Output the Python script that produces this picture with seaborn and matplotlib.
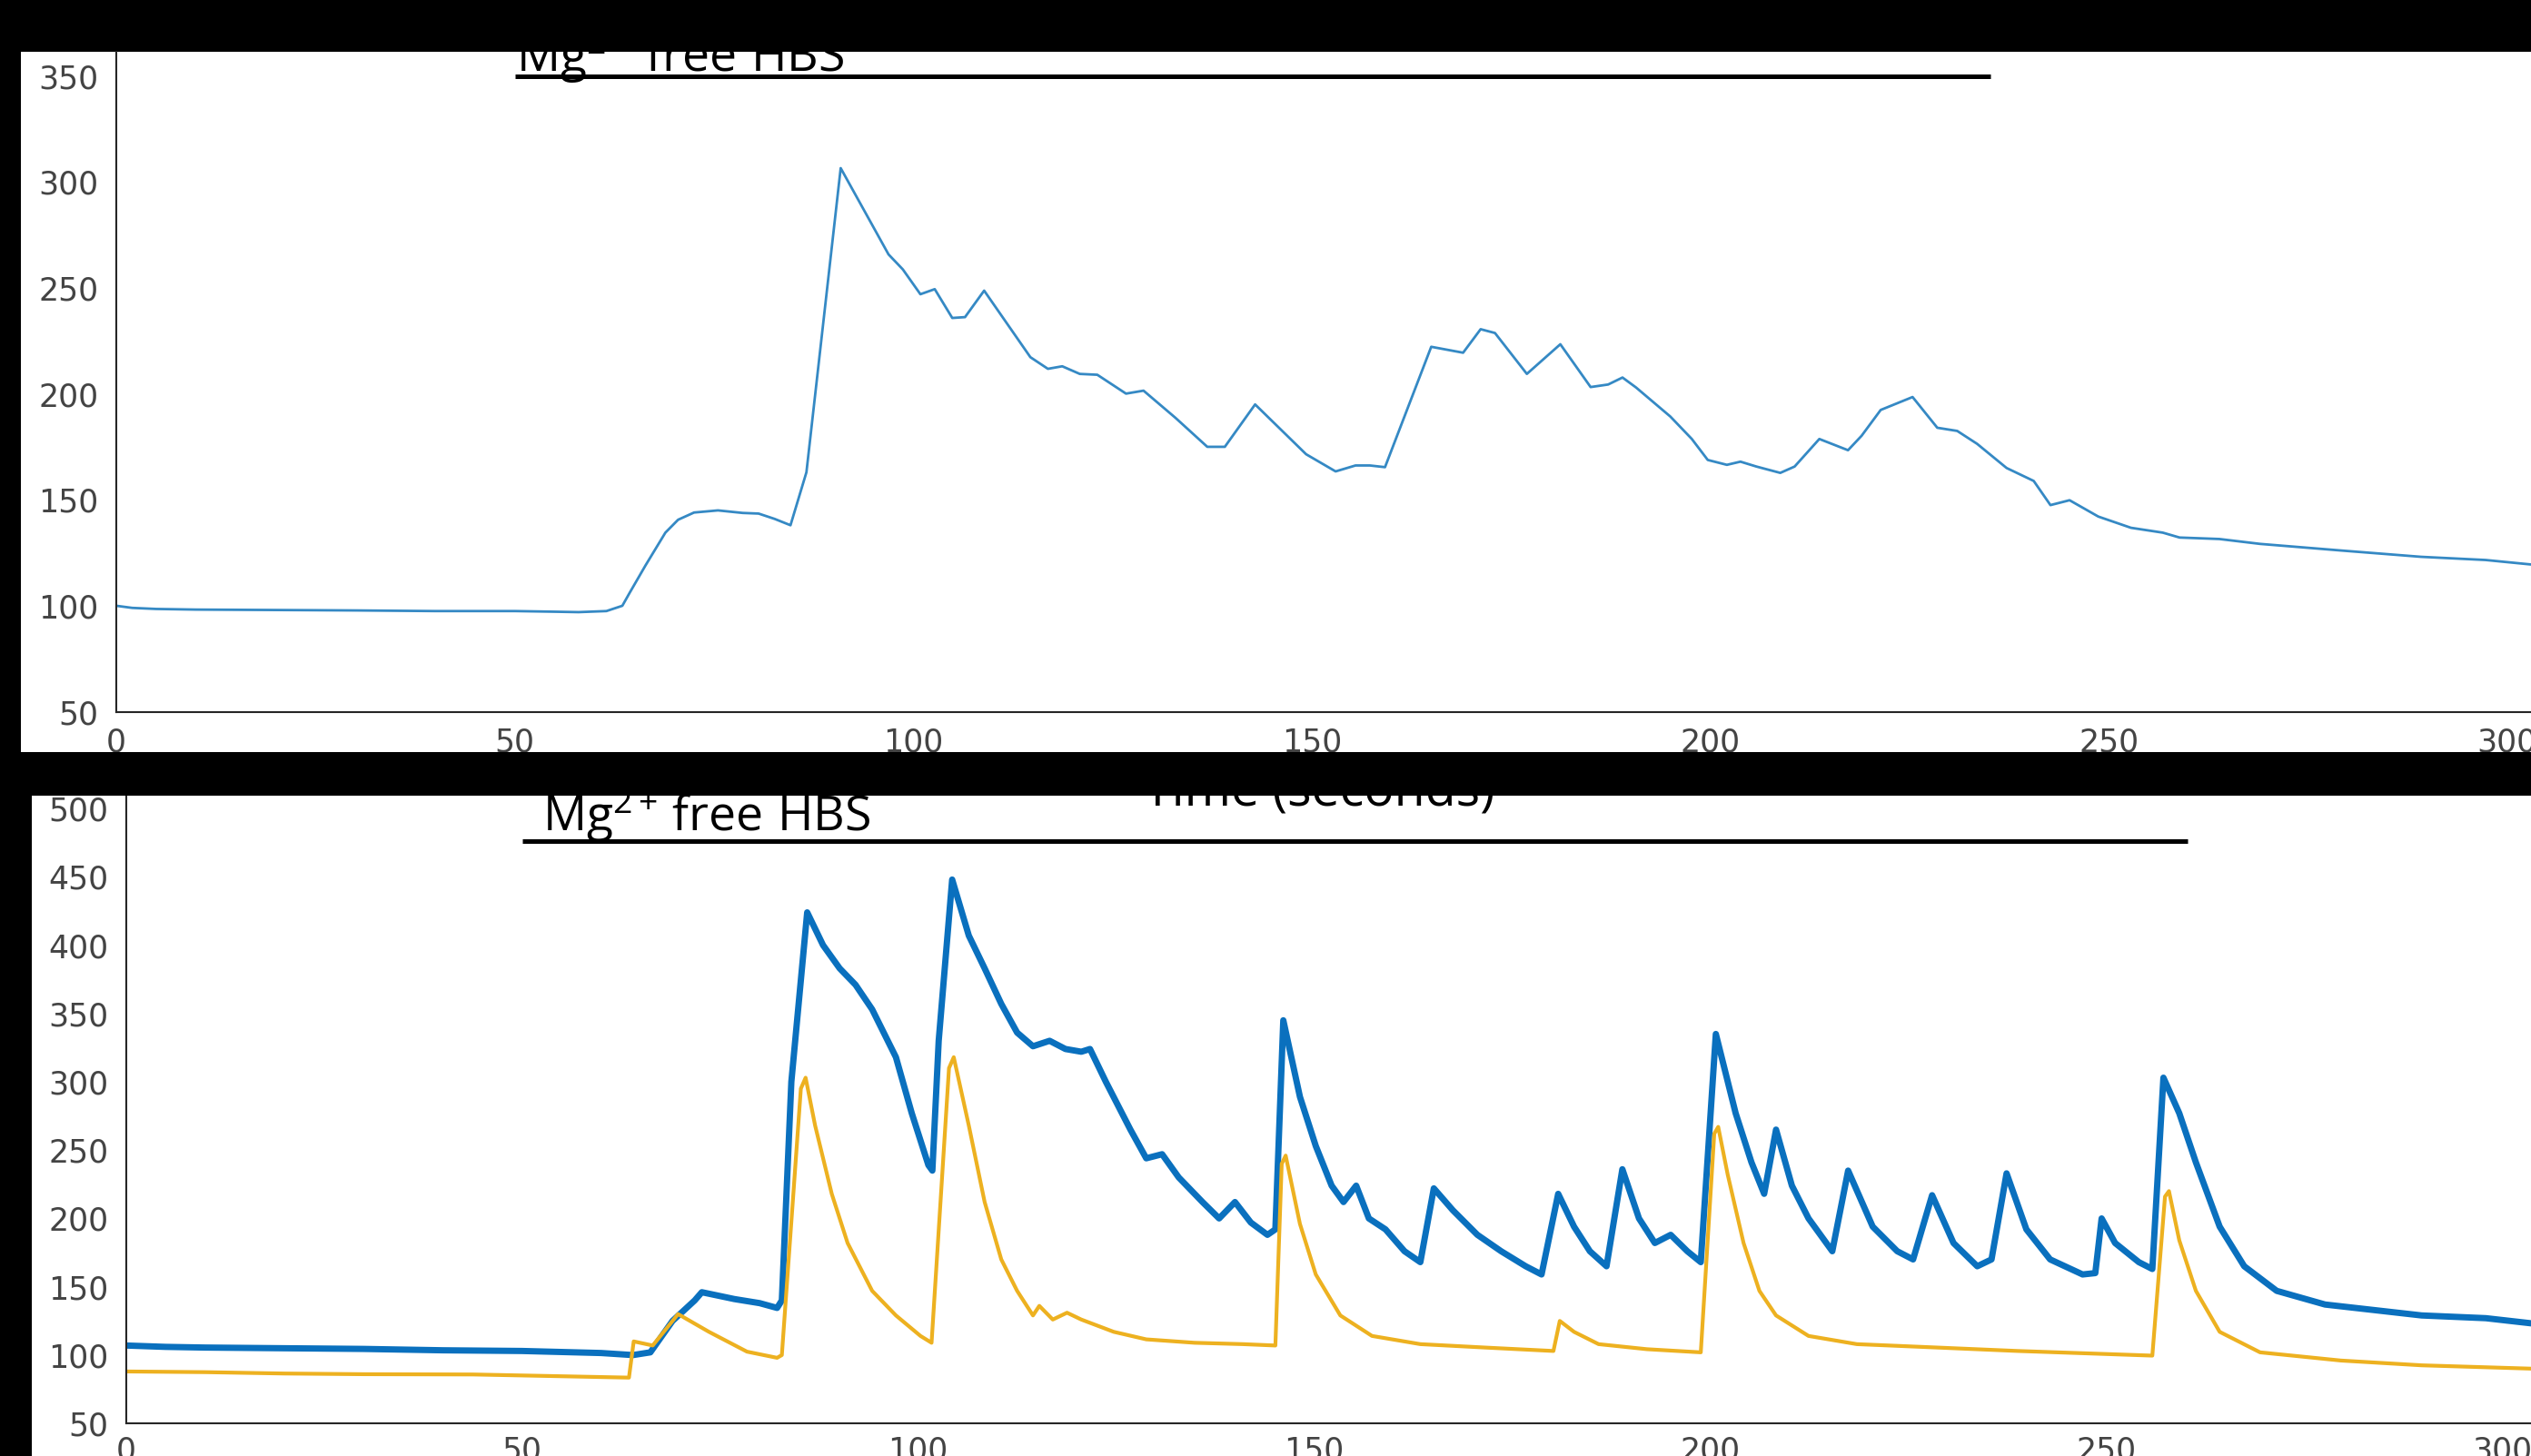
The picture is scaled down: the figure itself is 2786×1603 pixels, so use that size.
import matplotlib
matplotlib.use("Agg")
import matplotlib.pyplot as plt
import seaborn as sns
from matplotlib.patches import Rectangle

# ---------------------------------------------------------------
# data (time in s, fluorescence in a.u.)
# ---------------------------------------------------------------
top_trace = [
    (0, 100), (2, 99), (5, 98.5), (10, 98.2), (20, 98), (30, 97.8), (40, 97.5),
    (50, 97.5), (55, 97.2), (58, 97), (61.5, 97.5), (63.5, 100), (64.4, 106),
    (66.4, 119), (68.9, 134.5), (70.5, 140.6), (72.5, 144), (75.5, 145),
    (78.6, 143.8), (80.6, 143.5), (82.6, 141), (84.6, 138), (86.6, 163),
    (90.9, 306.5), (96.9, 265.8), (98.7, 258.7), (100.9, 247), (102.7, 249.4),
    (104.9, 235.8), (106.5, 236.2), (108.9, 248.7), (114.7, 217.3),
    (116.9, 211.8), (118.7, 213), (120.9, 209.4), (123.1, 209), (126.7, 200.1),
    (128.9, 201.5), (132.9, 188.7), (136.9, 175), (139.1, 175), (142.9, 195),
    (149.3, 171.5), (153, 163.4), (155.5, 166.2), (157.3, 166.2), (159.2, 165.4),
    (165, 222.2), (169, 219.4), (171.2, 230.5), (173, 228.7), (177, 209.4),
    (181.2, 223.4), (185, 203.2), (187.2, 204.4), (189, 207.7), (190.7, 203),
    (195, 189.3), (197.7, 178.7), (199.7, 168.8), (202.1, 166.5), (203.8, 168),
    (205.8, 165.7), (208.8, 162.7), (210.6, 165.7), (213.7, 178.7),
    (217.3, 173.4), (219, 180.2), (221.4, 192.4), (225.4, 198.5), (228.5, 184),
    (231, 182.5), (233.5, 176.4), (237.2, 165), (240.6, 158.9), (242.7, 147.5),
    (245.1, 149.8), (248.7, 142.1), (252.8, 136.8), (256.8, 134.5),
    (258.9, 132.2), (263.9, 131.5), (269, 129.2), (279.1, 126.1),
    (289.2, 123.1), (297.3, 121.6), (303.5, 119.3),
]

blue_trace = [
    (0, 107), (5, 106), (10, 105.5), (20, 105), (30, 104.5), (40, 103.5),
    (50, 103), (60, 101.5), (64, 100), (66.2, 102), (69, 125), (71.8, 140),
    (72.7, 146), (76.8, 141), (80, 138), (82.2, 134.5), (82.8, 140), (84, 300),
    (86, 424), (88, 400), (90.1, 383), (92.1, 371), (94.2, 353), (97.2, 318),
    (99.2, 277), (101.3, 239), (101.8, 235), (102.6, 330), (104.3, 448),
    (106.4, 407), (108.4, 383), (110.5, 357), (112.5, 336), (114.5, 326),
    (116.6, 330), (118.6, 324), (120.6, 322), (121.7, 324), (123.7, 300),
    (126.8, 265), (128.8, 244), (130.8, 247), (132.9, 230), (135.9, 212),
    (138, 200), (140, 212), (142, 197), (144.1, 188), (145.1, 192),
    (146.1, 345), (148.2, 289), (150.2, 253), (152.2, 224), (153.7, 212),
    (155.3, 224), (156.9, 200), (159, 192), (161.4, 176), (163.4, 168),
    (165.1, 222), (167.5, 206), (170.6, 188), (173.6, 176), (176.7, 165),
    (178.7, 159), (180.8, 218), (182.8, 194), (184.8, 176), (186.9, 165),
    (188.9, 236), (191, 200), (193, 182), (195, 188), (197.1, 176),
    (198.8, 168), (200.7, 335), (203.2, 277), (205.2, 241), (206.8, 218),
    (208.3, 265), (210.3, 224), (212.4, 200), (215.4, 176), (217.4, 235),
    (220.5, 194), (223.6, 176), (225.6, 170), (228, 217), (230.7, 182),
    (233.7, 165), (235.5, 170), (237.4, 233), (239.9, 192), (242.9, 170),
    (247, 159), (248.6, 160), (249.4, 200), (251.1, 182), (254.1, 168),
    (255.8, 163), (257.2, 303), (259.2, 277), (261.3, 241), (264.3, 194),
    (267.4, 165), (271.5, 147), (277.6, 137), (283.7, 133), (289.8, 129),
    (297.9, 127), (304, 123),
]

orange_trace = [
    (0, 88), (10, 87.5), (20, 86.5), (30, 86), (43.8, 85.8), (55, 84.5),
    (63.5, 83.5), (64.1, 110), (66.5, 107), (69.7, 130), (73.6, 117),
    (78.4, 102.5), (82.2, 98), (82.8, 100), (85.2, 295), (85.8, 303), (87, 268),
    (89.1, 218), (91.1, 182), (94.2, 147), (97.2, 129), (100.3, 114),
    (101.7, 109), (103.9, 310), (104.5, 318), (106.4, 268), (108.4, 212),
    (110.5, 170), (112.5, 147), (114.5, 129), (115.3, 136), (117, 126),
    (118.8, 131), (120.6, 126), (124.7, 117), (128.8, 111.5), (134.9, 109),
    (141, 108), (145.1, 107), (145.9, 240), (146.4, 246), (148.2, 196),
    (150.2, 159), (153.3, 129), (157.3, 114), (163.4, 108), (171.6, 105.5),
    (180.2, 103), (181, 125), (182.8, 117), (185.9, 108), (192, 104.3),
    (198.8, 102), (200.5, 262), (201, 267), (202.2, 232), (204.2, 182),
    (206.2, 147), (208.3, 129), (212.4, 114), (218.5, 108), (228.7, 105.5),
    (238.8, 103), (255.8, 99.6), (257.4, 216), (257.9, 220), (259.2, 184),
    (261.3, 147), (264.3, 117), (269.4, 102), (279.6, 96), (289.8, 92.5),
    (304, 90),
]

x_ticks = [0, 50, 100, 150, 200, 250, 300]
top_yticks = [50, 100, 150, 200, 250, 300, 350]
bot_yticks = [50, 100, 150, 200, 250, 300, 350, 400, 450, 500]

label_text = r"$\mathrm{Mg^{2+}\,free\ HBS}$"
top_bar = (50, 235.2, 350)       # x start, x end, y
bot_bar = (50, 260.2, 476.4)

# ---------------------------------------------------------------
sns.set_style("white")
plt.rcParams["font.family"] = ["DejaVu Sans"]
plt.rcParams["mathtext.fontset"] = "custom"
plt.rcParams["mathtext.rm"] = "Open Sans"
plt.rcParams["mathtext.it"] = "Open Sans:italic"
plt.rcParams["mathtext.bf"] = "Open Sans:bold"

W, H = 2786, 1603
fig = plt.figure(figsize=(W / 100, H / 100), dpi=100, facecolor="black")


def box(l, t, r, b):
    return [l / W, 1 - b / H, (r - l) / W, (b - t) / H]


def add_rect(l, t, r, b, color, z):
    fig.patches.append(Rectangle((l / W, 1 - b / H), (r - l) / W, (b - t) / H,
                                 transform=fig.transFigure, facecolor=color,
                                 edgecolor="none", zorder=z))


# white screenshot panels
add_rect(23, 57, W, 828, "white", -5)
add_rect(35, 876, W, H, "white", -5)


def style_axes(ax, yticks, xpad):
    ax.set_facecolor("none")
    for s in ["top", "right"]:
        ax.spines[s].set_visible(False)
    for s in ["left", "bottom"]:
        ax.spines[s].set_color("#262626")
        ax.spines[s].set_linewidth(1.5)
    ax.set_xticks(x_ticks)
    ax.set_yticks(yticks)
    ax.tick_params(axis="x", direction="in", length=14, width=1.4,
                   color="#262626", labelsize=25, labelcolor="#444444", pad=xpad)
    ax.tick_params(axis="y", direction="in", length=21, width=1.4,
                   color="#262626", labelsize=25, labelcolor="#444444", pad=14)
    ax.set_xlabel("")
    ax.set_ylabel("")


# ---------------- top panel ----------------
ax1 = fig.add_axes(box(128, 57, W, 783.6))
t1, y1 = zip(*top_trace)
sns.lineplot(x=list(t1), y=list(y1), ax=ax1, color="#3589c4", linewidth=2.0,
             sort=False, estimator=None)
ax1.set_xlim(0, 303.0)
ax1.set_ylim(50, 361.4)
style_axes(ax1, top_yticks, 12)
ax1.plot([top_bar[0], top_bar[1]], [top_bar[2], top_bar[2]], color="black",
         linewidth=3.6, solid_capstyle="butt", clip_on=False)
ax1.text(50.2, 351.8, label_text, fontsize=38.5, color="black",
         va="baseline", ha="left", clip_on=True)

# ---------------- bottom panel ----------------
ax2 = fig.add_axes(box(138.6, 876, W, 1567.1))
t2, y2 = zip(*blue_trace)
t3, y3 = zip(*orange_trace)
sns.lineplot(x=list(t2), y=list(y2), ax=ax2, color="#0a70be", linewidth=5.0,
             sort=False, estimator=None)
sns.lineplot(x=list(t3), y=list(y3), ax=ax2, color="#edb120", linewidth=3.0,
             sort=False, estimator=None)
ax2.set_xlim(0, 303.6)
ax2.set_ylim(50, 509.4)
style_axes(ax2, bot_yticks, 10)
ax2.plot([bot_bar[0], bot_bar[1]], [bot_bar[2], bot_bar[2]], color="black",
         linewidth=3.6, solid_capstyle="butt", clip_on=False)
ax2.text(52.6, 483.5, label_text, fontsize=38.5, color="black",
         va="baseline", ha="left")

# x-label of the upper screenshot, mostly hidden under the black gap
fig.text(1452 / W, 1 - 887 / H, "Time (seconds)", fontsize=40,
         family="Open Sans", color="black", ha="center", va="baseline", zorder=1)
add_rect(0, 828, W, 876, "black", 10)

fig.savefig("out.png", dpi=100, facecolor="black")
